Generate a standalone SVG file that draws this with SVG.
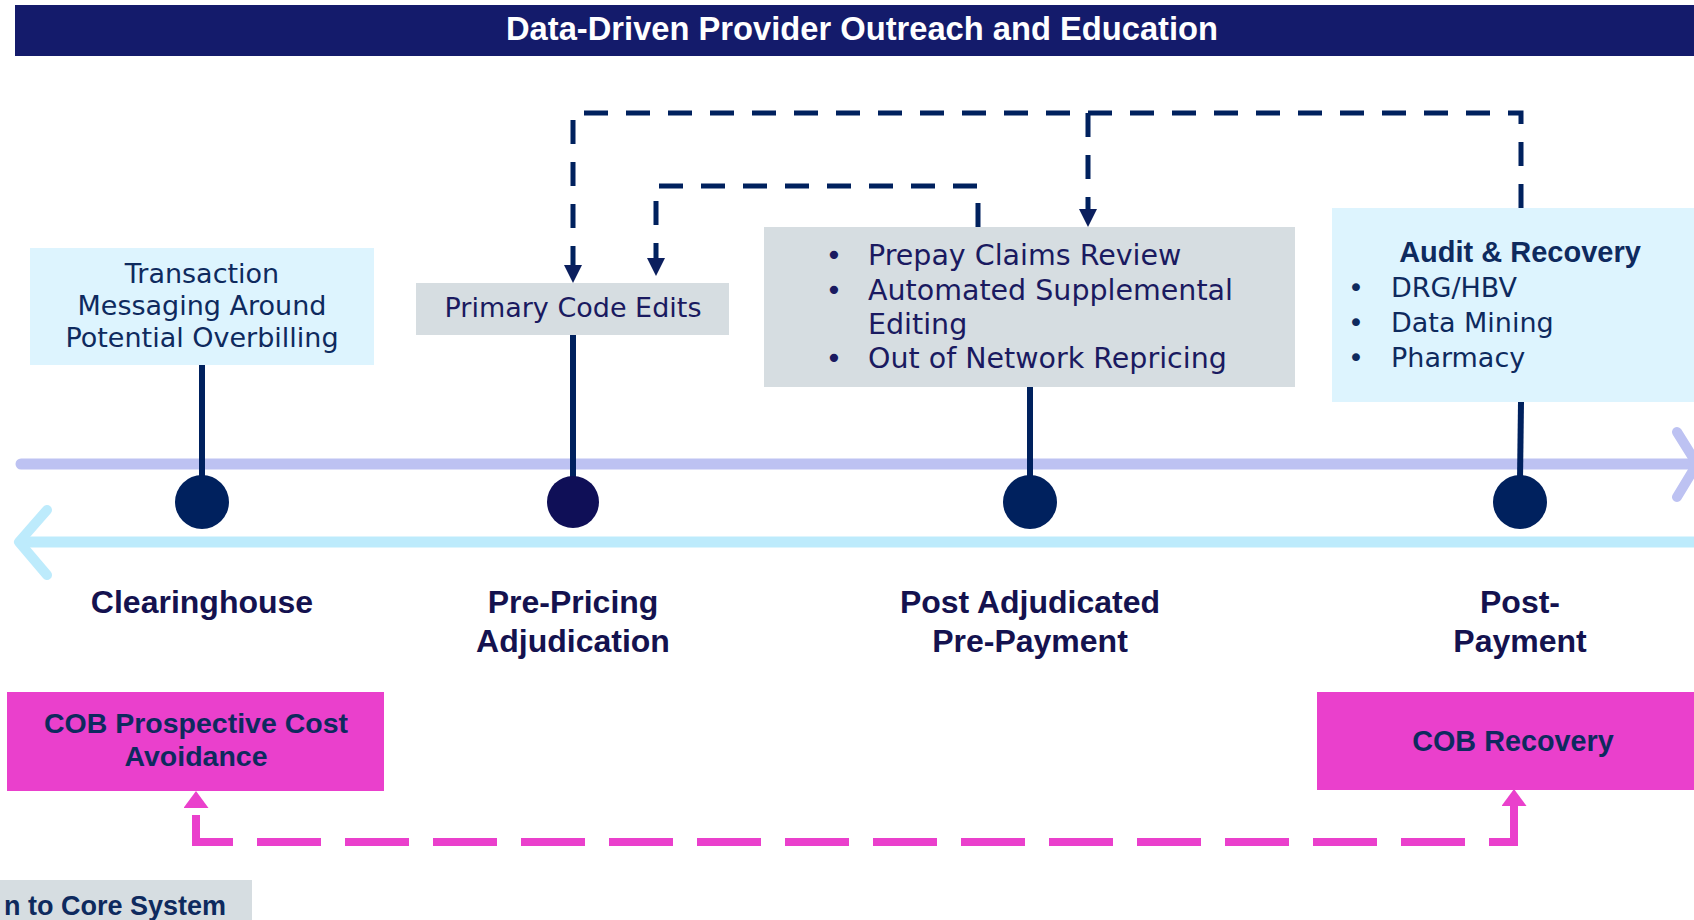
<svg xmlns="http://www.w3.org/2000/svg" width="1694" height="920" viewBox="0 0 1694 920">
<style>
.reg{font-family:"DejaVu Sans","Liberation Sans",sans-serif;font-size:27px;}
.bold{font-family:"Liberation Sans",Arial,sans-serif;font-weight:bold;}
.navy{fill:#0E2A5E;}
.indigo{fill:#1A1A60;}
.lbl{font-family:"Liberation Sans",Arial,sans-serif;font-weight:bold;font-size:32px;fill:#14124F;text-anchor:middle;}
.mid{text-anchor:middle;}
.stem{stroke:#00215E;stroke-width:6;fill:none;}
.dash{stroke:#00215E;stroke-width:5;fill:none;stroke-dasharray:24 18;}
.pink{stroke:#EA40CC;stroke-width:8;fill:none;stroke-dasharray:64 24;}
.gray{fill:#D6DDE1;}
.cyan{fill:#DDF4FE;}
.mag{fill:#EA40CC;}
.big{font-size:28.5px;}
</style>
<defs>
<marker id="navyHead" markerUnits="userSpaceOnUse" markerWidth="18" markerHeight="18" viewBox="0 0 18 18" refX="0" refY="9" orient="auto"><path d="M0,0 L18,9 L0,18 z" fill="#0B1F5E"/></marker>
<marker id="pinkHead" markerUnits="userSpaceOnUse" markerWidth="17" markerHeight="25" viewBox="0 0 17 25" refX="0" refY="12.5" orient="auto-start-reverse"><path d="M0,0 L17,12.5 L0,25 z" fill="#EA40CC"/></marker>
</defs>
<rect width="1694" height="920" fill="#FFFFFF"/>

<g id="title">
<rect x="15" y="5" width="1679" height="51" fill="#141B6B"/>
<text x="862" y="40" class="bold mid" font-size="32.7" fill="#FFFFFF">Data-Driven Provider Outreach and Education</text>
</g>

<g id="timeline">
<line x1="21" y1="464" x2="1694" y2="464" stroke="#BDC2F2" stroke-width="11" stroke-linecap="round"/>
<polyline points="1677,432 1697,464 1677,497" fill="none" stroke="#BDC2F2" stroke-width="10" stroke-linecap="round" stroke-linejoin="round"/>
<line x1="22" y1="542" x2="1694" y2="542" stroke="#BDEBFC" stroke-width="11"/>
<polyline points="47,510 19,542 47,575" fill="none" stroke="#BDEBFC" stroke-width="10" stroke-linecap="round" stroke-linejoin="round"/>
</g>

<g id="connectors">
<line class="stem" x1="202" y1="365" x2="202" y2="480"/>
<line class="stem" x1="573" y1="335" x2="573" y2="480"/>
<line class="stem" x1="1030" y1="387" x2="1030" y2="480"/>
<line class="stem" x1="1521" y1="402" x2="1520" y2="480"/>
<path class="dash" d="M1521 208 V113 H573 V265" marker-end="url(#navyHead)"/>
<path class="dash" d="M1088 113 V209" marker-end="url(#navyHead)"/>
<path class="dash" d="M978 227 V186 H656 V258" marker-end="url(#navyHead)"/>
<path class="pink" d="M196 808 V842 H1514 V806" stroke-dashoffset="81" marker-start="url(#pinkHead)" marker-end="url(#pinkHead)"/>
</g>

<g id="clearinghouse">
<rect x="30" y="248" width="344" height="117" class="cyan"/>
<text class="reg navy mid" x="202"><tspan x="202" y="283">Transaction</tspan><tspan x="202" y="315">Messaging Around</tspan><tspan x="202" y="347">Potential Overbilling</tspan></text>
<circle cx="202" cy="502" r="27" fill="#00215E"/>
<text class="lbl" x="202" y="613">Clearinghouse</text>
</g>

<g id="prepricing">
<rect x="416" y="283" width="313" height="52" class="gray"/>
<text class="reg indigo mid" x="573" y="317">Primary Code Edits</text>
<circle cx="573" cy="502" r="26" fill="#0F0F57"/>
<text class="lbl"><tspan x="573" y="613">Pre-Pricing</tspan><tspan x="573" y="652">Adjudication</tspan></text>
</g>

<g id="postadjudicated">
<rect x="764" y="227" width="531" height="160" class="gray"/>
<g class="reg big indigo">
<text x="834" y="265" class="mid">•</text><text x="868" y="265">Prepay Claims Review</text>
<text x="834" y="299.5" class="mid">•</text><text x="868" y="299.5">Automated Supplemental</text>
<text x="868" y="334">Editing</text>
<text x="834" y="368" class="mid">•</text><text x="868" y="368">Out of Network Repricing</text>
</g>
<circle cx="1030" cy="502" r="27" fill="#00215E"/>
<text class="lbl"><tspan x="1030" y="613">Post Adjudicated</tspan><tspan x="1030" y="652">Pre-Payment</tspan></text>
</g>

<g id="postpayment">
<rect x="1332" y="208" width="362" height="194" class="cyan"/>
<text x="1520" y="262" class="bold mid navy" font-size="29">Audit &amp; Recovery</text>
<g class="reg navy">
<text x="1356" y="297" class="mid">•</text><text x="1391" y="297">DRG/HBV</text>
<text x="1356" y="332" class="mid">•</text><text x="1391" y="332">Data Mining</text>
<text x="1356" y="367" class="mid">•</text><text x="1391" y="367">Pharmacy</text>
</g>
<circle cx="1520" cy="502" r="27" fill="#00215E"/>
<text class="lbl"><tspan x="1520" y="613">Post-</tspan><tspan x="1520" y="652">Payment</tspan></text>
</g>

<g id="cob-prospective">
<rect x="7" y="692" width="377" height="99" class="mag"/>
<text class="bold mid navy" font-size="28.5"><tspan x="196" y="733">COB Prospective Cost</tspan><tspan x="196" y="766">Avoidance</tspan></text>
</g>

<g id="cob-recovery">
<rect x="1317" y="692" width="377" height="98" class="mag"/>
<text x="1513" y="751" class="bold mid navy" font-size="28.8">COB Recovery</text>
</g>

<g id="core-system">
<rect x="0" y="880" width="252" height="40" class="gray"/>
<text x="226" y="915" class="bold navy" font-size="27" text-anchor="end">n to Core System</text>
</g>
</svg>
